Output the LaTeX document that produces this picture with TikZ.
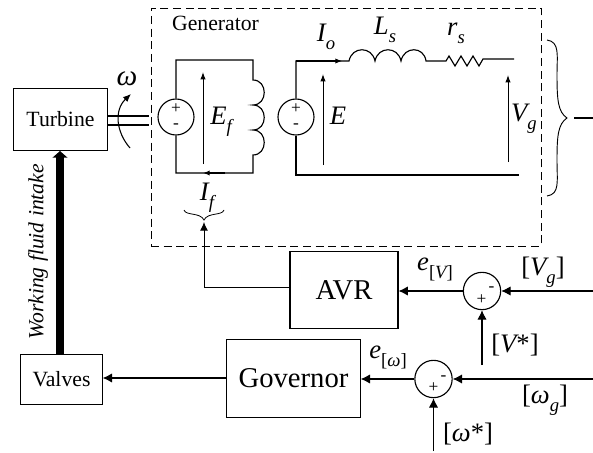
\documentclass[tikz,border=0pt]{standalone}
\usepackage{fontspec}
\setmainfont{Liberation Serif}
\usetikzlibrary{arrows.meta,calc}
\newcommand{\sbs}[1]{\raisebox{-0.3em}{\fontsize{14}{14}\selectfont #1}}
\newcommand{\sbn}[1]{\raisebox{-0.3em}{\fontsize{14}{14}\selectfont\upshape #1}}
\tikzset{
  blk/.style={draw,line width=0.8pt,inner sep=0pt,anchor=center},
  sumc/.style={draw,circle,line width=0.85pt,minimum size=28pt,inner sep=0pt},
  src/.style={draw,circle,line width=0.85pt,minimum size=27pt,inner sep=0pt},
  wire/.style={line width=0.85pt},
  sig/.style={line width=0.8pt,-{Latex[length=7pt,width=7pt]}},
  volt/.style={line width=0.75pt,-{Latex[length=5.5pt,width=4pt]}},
  lab/.style={font=\itshape\fontsize{20}{20}\selectfont,inner sep=0pt},
  sm/.style={font=\fontsize{13}{13}\selectfont,inner sep=0pt},
  pm/.style={font=\fontsize{13}{13}\selectfont,inner sep=0pt},
  txt/.style={font=\fontsize{16.3}{17}\selectfont},
  big/.style={font=\fontsize{21.5}{22}\selectfont},
}
\begin{document}
\begin{tikzpicture}[x=0.75pt,y=-0.75pt]
\useasboundingbox (0,0) rectangle (593,453);
\fill[white] (0,0) rectangle (593,453);
% generator frame
\node[draw,line width=0.7pt,dash pattern=on 6pt off 3.5pt,minimum width=292.5pt,minimum height=178.5pt,inner sep=0pt] (frame) at (346,127) {};
\node[txt,inner sep=0pt] (gen) at (215.5,23) {Generator};
% blocks
\node[blk,txt,minimum width=70.5pt,minimum height=46pt] (turbine) at (60.5,119.5) {Turbine};
\node[blk,txt,minimum width=61pt,minimum height=37pt] (valves) at (61.5,379.5) {Valves};
\node[blk,big,minimum width=100pt,minimum height=58pt] (gov) at (293.5,378.5) {Governor};
\node[blk,big,minimum width=81pt,minimum height=58pt] (avr) at (344,290) {AVR};
\node[sumc] (s1) at (482,291) {};
\node[sumc] (s2) at (433.5,379) {};
\node[sm] (p1) at (481.5,300) {+};
\node[sm] (m1) at (491.5,289) {-};
\node[sm] (p2) at (433.5,388) {+};
\node[sm] (m2) at (443.5,378.5) {-};
% sources
\node[src] (ef) at (176,117) {};
\node[src] (e) at (296,117) {};
\node[pm] (p3) at (176,108.5) {+};
\node[pm] (m3) at (176,126.5) {-};
\node[pm] (p4) at (296,108.5) {+};
\node[pm] (m4) at (296,126.5) {-};
% field circuit
\coordinate (ft) at (253,60);
\coordinate (fb) at (253,173);
\draw[wire] (ef.north) -- (176,60) -- (ft) -- (253,80)
  .. controls (268,80) and (268,105) .. (253,105)
  .. controls (268,105) and (268,130) .. (253,130)
  .. controls (268,130) and (268,155) .. (253,155)
  -- (fb) -- (176,173) -- (ef.south);
% stator circuit
\coordinate (w1) at (349,61);
\coordinate (w2) at (426,61);
\coordinate (r1) at (446,61);
\coordinate (r2) at (483,59);
\coordinate (vt) at (514,59);
\coordinate (vb) at (519,175);
\draw[wire] (e.north) -- (296,61) -- (w1)
  .. controls (352,46) and (372,46) .. (375,61)
  .. controls (378,46) and (398,46) .. (401,61)
  .. controls (404,46) and (424,46) .. (426,61)
  -- (r1) -- (449,56) -- (455,66) -- (461,56) -- (467,66) -- (473,56) -- (479,66) -- (r2) -- (vt);
\draw[wire] (e.south) -- (296,175) -- (vb);
\draw[line width=0.85pt,-{Latex[length=5pt,width=4pt]}] (296,61) -- (342,61);
\draw[volt] (203,164) -- (203,72);
\draw[volt] (323,165) -- (323,74);
\draw[volt] (508,162) -- (508,75);
\draw[line width=1.4pt,-{Latex[length=5pt,width=4pt]}] (225,173) -- (203,173);
% shaft
\coordinate (sh1) at (149,116);
\coordinate (sh2) at (149,125);
\draw[line width=1.2pt] (turbine.east |- sh1) -- (sh1);
\draw[line width=1.2pt] (turbine.east |- sh2) -- (sh2);
\coordinate (oma) at (130,148);
\coordinate (omb) at (131,94);
\draw[line width=0.8pt,-{Latex[length=6pt,width=5pt]}] (oma) .. controls (116,132) and (114,110) .. (omb);
% braces
\coordinate (ifb) at (204,222);
\draw[line width=0.6pt] (184,210) .. controls (186,216) and (200,212) .. (204,220) .. controls (208,212) and (222,216) .. (224,210);
\draw[line width=0.7pt] (547,40) .. controls (560,42) and (557,55) .. (557,75) .. controls (557,100) and (558,112) .. (567,118)
  .. controls (558,124) and (557,136) .. (557,160) .. controls (557,182) and (560,194) .. (547,196);
\coordinate (bo) at (574,118);
\coordinate (be) at (593,118);
\draw[wire] (bo) -- (be);
% signal connectors
\draw[line width=0.75pt,-{Latex[length=6.5pt,width=6pt]}] (avr.west |- 0,287.5) -| (ifb);
\draw[sig] (gov.west |- 0,378) -- (valves.east |- 0,378);
\draw[sig] (s1.west) -- (avr.east |- s1);
\draw[sig] (s2.west) -- (gov.east |- s2);
\coordinate (vgin) at (593,291);
\coordinate (vsin) at (482,365);
\coordinate (wgin) at (593,379);
\coordinate (wsin) at (433.5,451);
\draw[sig] (vgin) -- (s1.east);
\draw[sig] (vsin) -- (s1.south);
\draw[sig] (wgin) -- (s2.east);
\draw[sig] (wsin) -- (s2.south);
% thick intake
\draw[line width=5.4pt,-{Triangle[length=5pt,width=11pt]}] (valves.north -| 60,0) -- (60,151);
% labels
\node[lab,font=\itshape\fontsize{22}{22}\selectfont] (om) at (127,79) {ω};
\node[lab] (lef) at (221,122) {E\sbs{f}};
\node[lab] (lif) at (207,198) {I\sbs{f}};
\node[lab] (lio) at (326,37) {I\sbs{o}};
\node[lab] (lls) at (385,30) {L\sbs{s}};
\node[lab] (lrs) at (456,33) {r\sbs{s}};
\node[lab] (le) at (338,116) {E};
\node[lab] (lvg) at (524,119) {V\sbs{g}};
\node[lab] (lev) at (435,269) {e\sbn{[}\sbs{V}\sbn{]}};
\node[lab] (lew) at (388,357) {e\sbn{[}\sbs{ω}\sbn{]}};
\node[lab] (lvgb) at (543,272) {\upshape[\itshape V\sbs{g}\upshape]};
\node[lab] (lvs) at (515,345) {\upshape[\itshape V\upshape*]};
\node[lab] (lwg) at (545,400) {\upshape[\itshape ω\sbs{g}\upshape]};
\node[lab] (lws) at (468,434) {\upshape[\itshape ω\upshape*]};
\node[rotate=90,inner sep=0pt,font=\itshape\fontsize{16.2}{17}\selectfont] (wf) at (38,252) {Working fluid intake};
\end{tikzpicture}
\end{document}
